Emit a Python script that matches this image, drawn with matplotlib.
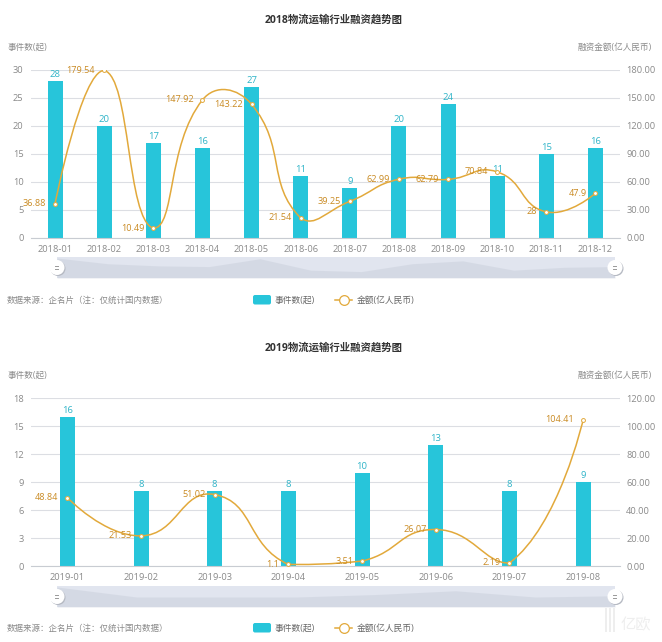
import numpy as np
import matplotlib
matplotlib.use("Agg")
import matplotlib.pyplot as plt
from matplotlib.path import Path
from matplotlib.patches import PathPatch, Rectangle, FancyBboxPatch
from matplotlib.lines import Line2D

# ── dati ────────────────────────────────────────────
months_2018 = ["2018-01", "2018-02", "2018-03", "2018-04", "2018-05", "2018-06",
               "2018-07", "2018-08", "2018-09", "2018-10", "2018-11", "2018-12"]
events_2018 = [28, 20, 17, 16, 27, 11, 9, 20, 24, 11, 15, 16]
amount_2018 = [36.88, 179.54, 10.49, 147.92, 143.22, 21.54, 39.25, 62.99, 62.79, 70.84, 28, 47.9]
left_ticks_2018 = [0, 5, 10, 15, 20, 25, 30]
right_ticks_2018 = [0, 30, 60, 90, 120, 150, 180]

months_2019 = ["2019-01", "2019-02", "2019-03", "2019-04",
               "2019-05", "2019-06", "2019-07", "2019-08"]
events_2019 = [16, 8, 8, 8, 10, 13, 8, 9]
amount_2019 = [48.84, 21.53, 51.02, 1.1, 3.51, 26.07, 2.19, 104.41]
left_ticks_2019 = [0, 3, 6, 9, 12, 15, 18]
right_ticks_2019 = [0, 20, 40, 60, 80, 100, 120]

# ── stile ───────────────────────────────────────────
W, H = 662, 642
BAR = "#27c5da"
LINE = "#e2a93b"
AMOUNT_TXT = "#c98a22"
COUNT_TXT = "#2fb4c8"
GREY = "#8a8a8a"
GRID = "#dcdee3"
SLIDER = "#e1e5ef"
SHADOW = "#c6ccd8"

plt.rcParams["font.family"] = ["Open Sans", "Noto Sans CJK SC", "DejaVu Sans"]


def px_axes(fig, left, top, right, bottom):
    return fig.add_axes([left / W, 1 - bottom / H, (right - left) / W, (bottom - top) / H])


def fig_text(fig, x, y, s, **kw):
    fig.text(x / W, 1 - y / H, s, va="center", **kw)


def smooth_path(values, ppx, ppy, smooth=0.5):
    """Curva di bezier tipo echarts, punti di controllo limitati al range dei dati."""
    y = np.array(values, dtype=float)
    x = np.arange(len(y), dtype=float)
    verts, codes = [(x[0], y[0])], [Path.MOVETO]
    out_cp = [(x[0], y[0])]
    in_cp = []
    for i in range(1, len(y) - 1):
        vx, vy = x[i + 1] - x[i - 1], y[i + 1] - y[i - 1]
        d0 = np.hypot(ppx, (y[i] - y[i - 1]) * ppy)
        d1 = np.hypot(ppx, (y[i + 1] - y[i]) * ppy)
        r = d1 / (d0 + d1)
        c_in = np.clip(y[i] - vy * smooth * (1 - r), y.min(), y.max())
        c_out = np.clip(y[i] + vy * smooth * r, y.min(), y.max())
        in_cp.append((x[i] - vx * smooth * (1 - r), c_in))
        out_cp.append((x[i] + vx * smooth * r, c_out))
    in_cp.append((x[-1], y[-1]))
    for i in range(1, len(y)):
        verts += [out_cp[i - 1], in_cp[i - 1], (x[i], y[i])]
        codes += [Path.CURVE4] * 3
    return Path(verts, codes)


def draw_handle(ax_fig, x, y):
    ax_fig.add_patch(plt.Circle((x + 1, y + 1), 7.5, fc="#b5b9c2", ec="none", zorder=5))
    ax_fig.add_patch(plt.Circle((x, y), 7.5, fc="white", ec="none", zorder=6))
    ax_fig.plot([x - 2, x + 1], [y - 1.5, y - 1.5], color="#999999", lw=0.7, zorder=7)
    ax_fig.plot([x - 2, x + 1], [y + 1.5, y + 1.5], color="#999999", lw=0.7, zorder=7)


def draw_panel(fig, overlay, title, months, events, amount, lticks, rticks,
               title_y, top, bottom, sl_top, sl_bottom, leg_y):
    left, right = 30.5, 620
    fig_text(fig, 334, title_y, title, ha="center", fontsize=7.5, fontweight="bold", color="#333333")
    fig_text(fig, 8, top - 23, "事件数(起)", ha="left", fontsize=6.2, color=GREY)
    fig_text(fig, 652, top - 23, "融资金额(亿人民币)", ha="right", fontsize=6.2, color=GREY)

    ax = px_axes(fig, left, top, right, bottom)
    x = np.arange(len(months))
    ax.bar(x, events, width=15 / ((right - left) / len(months)), color=BAR, zorder=2)
    ax.set_xlim(-0.5, len(months) - 0.5)
    ax.set_ylim(lticks[0], lticks[-1])
    ax.set_yticks(lticks)
    ax.set_xticks(x, months)
    ax.grid(axis="y", color=GRID, lw=0.8, zorder=0)
    ax.set_axisbelow(True)
    ax.tick_params(axis="x", length=0, labelsize=6.7, labelcolor=GREY, pad=5)
    ax.tick_params(axis="y", length=0, labelsize=6.7, labelcolor=GREY, pad=5)
    for s in ["top", "left", "right"]:
        ax.spines[s].set_visible(False)
    ax.spines["bottom"].set_color("#c8ccd2")

    for xi, v in zip(x, events):
        ax.annotate(str(v), (xi, v), xytext=(0, 1.5), textcoords="offset points",
                    ha="center", va="bottom", fontsize=6.8, color=COUNT_TXT, zorder=6)

    ax2 = ax.twinx()
    ax2.set_ylim(rticks[0], rticks[-1])
    ax2.set_yticks(rticks, [f"{t:.2f}" for t in rticks])
    ax2.tick_params(length=0, labelsize=6.7, labelcolor=GREY, pad=4.5)
    for s in ax2.spines.values():
        s.set_visible(False)
    ppx = (right - left) / len(months)
    ppy = (bottom - top) / rticks[-1]
    ax2.add_patch(PathPatch(smooth_path(amount, ppx, ppy), fc="none", ec=LINE, lw=1.1, zorder=4))
    ax2.plot(x, amount, ls="none", marker="o", ms=2.8, mfc="white", mec=LINE, mew=0.7, zorder=5)
    for xi, v in zip(x, amount):
        ax2.annotate(f"{v:g}", (xi, v), xytext=(-6.5, 0), textcoords="offset points",
                     ha="right", va="center", fontsize=6.6, color=AMOUNT_TXT, zorder=6)

    # slider dello zoom, l'ombra viene dalla serie delle barre
    sl = px_axes(fig, 57, sl_top, 615, sl_bottom)
    sl.axis("off")
    sl.add_patch(Rectangle((0, 0), 1, 1, transform=sl.transAxes, fc=SLIDER, ec="none", zorder=0))
    sl.fill_between(x, events, color=SHADOW, lw=0, alpha=0.45, zorder=1)
    sl.set_xlim(0, len(months) - 1)
    sl.set_ylim(0, max(events) * 1.05)
    mid = (sl_top + sl_bottom) / 2
    draw_handle(overlay, 57, mid)
    draw_handle(overlay, 615, mid)

    # legenda e fonte
    fig_text(fig, 7, leg_y + 1, "数据来源：企名片（注：仅统计国内数据）", ha="left", fontsize=6.1, color=GREY)
    overlay.add_patch(FancyBboxPatch((253, leg_y - 5), 18, 9.5, boxstyle="round,pad=0,rounding_size=2",
                                     fc=BAR, ec="none"))
    fig_text(fig, 275, leg_y, "事件数(起)", ha="left", fontsize=6.3, color="#666666")
    overlay.add_line(Line2D([335, 352], [leg_y, leg_y], color=LINE, lw=1.1))
    overlay.plot([344], [leg_y], marker="o", ms=7, mfc="white", mec=LINE, mew=0.9)
    fig_text(fig, 357, leg_y, "金额(亿人民币)", ha="left", fontsize=6.3, color="#666666")


fig = plt.figure(figsize=(W / 100, H / 100), dpi=100)
overlay = fig.add_axes([0, 0, 1, 1], zorder=10)
overlay.set_xlim(0, W)
overlay.set_ylim(H, 0)
overlay.axis("off")
overlay.patch.set_alpha(0)

draw_panel(fig, overlay, "2018物流运输行业融资趋势图", months_2018, events_2018, amount_2018,
           left_ticks_2018, right_ticks_2018, 20, 70, 238, 257, 278, 300)
draw_panel(fig, overlay, "2019物流运输行业融资趋势图", months_2019, events_2019, amount_2019,
           left_ticks_2019, right_ticks_2019, 348, 398, 566, 586, 607, 628)

# filigrana
for bar_x in (605, 609, 613):
    overlay.add_patch(Rectangle((bar_x, 608), 2, 24, fc="#eeeeee", ec="none"))
fig_text(fig, 636, 626, "亿欧", ha="center", fontsize=11, color="#eeeeee")

fig.savefig("out.png", dpi=100)
